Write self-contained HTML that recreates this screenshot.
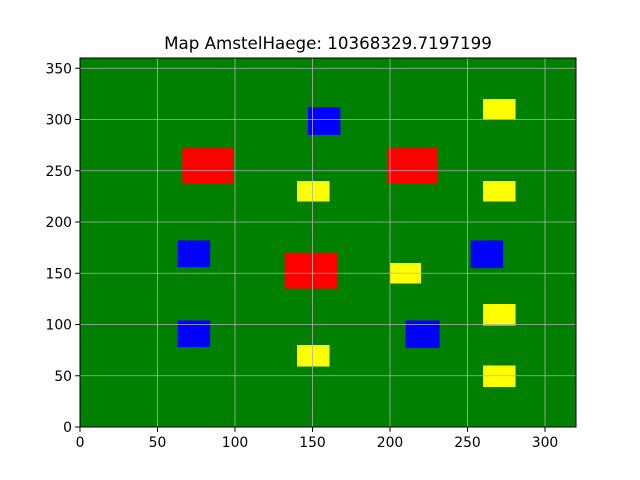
<!DOCTYPE html>
<html><head><meta charset="utf-8"><style>
html,body{margin:0;padding:0;background:#fff;}
svg{display:block;font-family:"DejaVu Sans","Liberation Sans",sans-serif;}
</style></head><body>
<svg id="chart" width="640" height="480"></svg>
<script>
const categories=["red","red","red","blue","blue","blue","blue","blue","yellow","yellow","yellow","yellow","yellow","yellow","yellow"];
const xStart=[66,198,132,147,252,210,63,63,140,200,260,260,140,260,260];
const xEnd=[99,231,166,168,273,232,84,84,161,220,281,281,161,281,281];
const yStart=[237,237,135,285,155,77,156,78,220,140,99,39,59,300,220];
const yEnd=[272,272,170,312,182,104,182,104,240,160,120,60,80,320,240];
const xTicks=[0,50,100,150,200,250,300];
const yTicks=[0,50,100,150,200,250,300,350];
const L=80,R=576,T=58,B=427,XMAX=320,YMAX=360;
const sx=v=>L+v/XMAX*(R-L), sy=v=>B-v/YMAX*(B-T);
const NS="http://www.w3.org/2000/svg", svg=document.getElementById('chart');
function mk(t,a,p){const e=document.createElementNS(NS,t);for(const k in a)e.setAttribute(k,a[k]);(p||svg).appendChild(e);return e;}
const bg=mk('rect',{x:L,y:T,width:R-L,height:B-T,fill:'#008000'});


const colors={red:'#ff0000',blue:'#0000ff',yellow:'#ffff00'};
categories.forEach((c,i)=>{
  const r=mk('rect',{x:sx(xStart[i]),y:sy(yEnd[i]),width:sx(xEnd[i])-sx(xStart[i]),height:sy(yStart[i])-sy(yEnd[i]),fill:colors[c]});
  
  
});
xTicks.forEach(v=>{
  const x=sx(v);
  if(v>0&&v<XMAX){const g=mk('line',{x1:x,x2:x,y1:T,y2:B,stroke:'#b0b0b0','stroke-width':0.8});
  
  }
  mk('line',{x1:x,x2:x,y1:B,y2:B+4.9,stroke:'#000','stroke-width':1});
  const t=mk('text',{x:x,y:B+20,'font-size':13.9,'text-anchor':'middle',fill:'#000'});t.textContent=v;
  
  
});
yTicks.forEach(v=>{
  const y=sy(v);
  if(v>0){const g=mk('line',{x1:L,x2:R,y1:y,y2:y,stroke:'#b0b0b0','stroke-width':0.8});
  
  }
  mk('line',{x1:L-4.9,x2:L,y1:y,y2:y,stroke:'#000','stroke-width':1});
  const t=mk('text',{x:L-8,y:y+5,'font-size':13.9,'text-anchor':'end',fill:'#000'});t.textContent=v;
  
  
});
const fr=mk('rect',{x:L,y:T,width:R-L,height:B-T,fill:'none',stroke:'#000','stroke-width':1});


const title=mk('text',{x:(L+R)/2,y:49,'font-size':16.7,'text-anchor':'middle',fill:'#000'});
title.textContent='Map AmstelHaege: 10368329.7197199';


</script>
</body></html>
